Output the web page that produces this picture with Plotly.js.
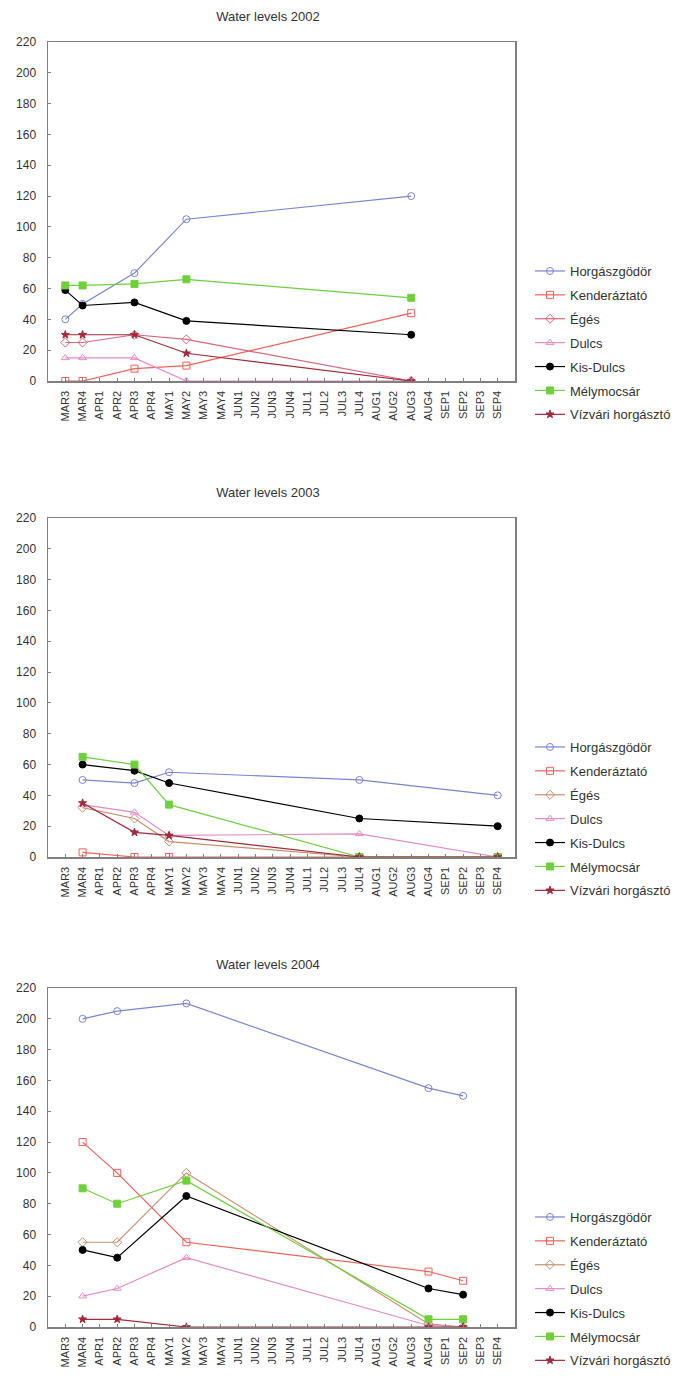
<!DOCTYPE html>
<html>
<head>
<meta charset="utf-8">
<script src="https://cdn.plot.ly/plotly-3.0.1.min.js"></script>
<style>
  html, body { margin: 0; padding: 0; background: #fff; overflow: hidden; }
  .chart { position: absolute; left: 0; width: 688px; }
</style>
</head>
<body>
<div id="c2002" class="chart" style="top:0px;height:470px;"></div>
<div id="c2003" class="chart" style="top:476px;height:470px;"></div>
<div id="c2004" class="chart" style="top:946px;height:470px;"></div>
<script>
const categories = ['MAR3','MAR4','APR1','APR2','APR3','APR4','MAY1','MAY2','MAY3','MAY4',
  'JUN1','JUN2','JUN3','JUN4','JUL1','JUL2','JUL3','JUL4','AUG1','AUG2','AUG3','AUG4',
  'SEP1','SEP2','SEP3','SEP4'];
const seriesNames = ['Horgászgödör','Kenderáztató','Égés','Dulcs','Kis-Dulcs','Mélymocsár','Vízvári horgásztó'];
const yTickValues = [0,20,40,60,80,100,120,140,160,180,200,220];

// 2002
const x2002 = ['MAR3','MAR4','APR3','MAY2','AUG3'];
const horgaszgodor2002 = [40,50,70,105,120];
const kenderaztato2002 = [0,0,8,10,44];
const eges2002 = [25,25,30,27,0];
const dulcs2002 = [15,15,15,0,0];
const kisDulcs2002 = [59,49,51,39,30];
const melymocsar2002 = [62,62,63,66,54];
const vizvari2002 = [30,30,30,18,0];

// 2003
const x2003 = ['MAR4','APR3','MAY1','JUL4','SEP4'];
const horgaszgodor2003 = [50,48,55,50,40];
const kenderaztato2003 = [3,0,0,0,0];
const eges2003 = [32,25,10,0,0];
const dulcs2003 = [34,29,14,15,0];
const kisDulcs2003 = [60,56,48,25,20];
const melymocsar2003 = [65,60,34,0,0];
const vizvari2003 = [35,16,14,0,0];

// 2004
const x2004 = ['MAR4','APR2','MAY2','AUG4','SEP2'];
const horgaszgodor2004 = [200,205,210,155,150];
const kenderaztato2004 = [120,100,55,36,30];
const eges2004 = [55,55,100,2,0];
const dulcs2004 = [20,25,45,1,0];
const kisDulcs2004 = [50,45,85,25,21];
const melymocsar2004 = [90,80,95,5,5];
const vizvari2004 = [5,5,0,0,0];

const styles = [
  {color:'#7a84d2', symbol:'circle-open', size:7},
  {color:'#f2605a', symbol:'square-open', size:7},
  {color:'#d9667a', symbol:'diamond-open', size:7},
  {color:'#e38bc6', symbol:'triangle-up-open', size:7},
  {color:'#000000', symbol:'circle', size:7},
  {color:'#6fd03c', symbol:'square', size:7},
  {color:'#a3283a', symbol:'star', size:6}
];
const egesBrown = '#c99070';

function makeTraces(xs, seriesList, egesColor) {
  return seriesList.map((ys, i) => {
    const c = (i === 2 && egesColor) ? egesColor : styles[i].color;
    return {
      type: 'scatter', mode: 'lines+markers', name: seriesNames[i],
      x: xs, y: ys, legendgroup: 'g' + i,
      line: {color: c, width: 1.2},
      marker: {color: c, symbol: styles[i].symbol, size: styles[i].size, line: {color: c, width: 1}}
    };
  });
}

function makeLayout(title, height, bottom, titleOffset) {
  const axisCommon = {
    showline: true, linecolor: '#808080', linewidth: 1.5, mirror: true,
    showgrid: false, zeroline: false, ticks: 'inside', ticklen: 3,
    tickcolor: '#808080', tickwidth: 1
  };
  return {
    width: 688, height: height,
    margin: {l: 48, r: 173, t: 42, b: bottom},
    paper_bgcolor: '#fff', plot_bgcolor: '#fff',
    font: {family: 'Liberation Sans, Arial, sans-serif', color: '#333'},
    title: {text: title, x: 268/688, xref: 'container', xanchor: 'center',
            y: 1 - titleOffset/height, yref: 'container', yanchor: 'middle',
            font: {size: 13, color: '#333'}},
    xaxis: Object.assign({}, axisCommon, {
      type: 'category', categoryorder: 'array', categoryarray: categories,
      tickvals: categories, ticktext: categories,
      range: [-1, 26], tickangle: -90, tickfont: {size: 11, color: '#333'},
      ticklabelstandoff: 4
    }),
    yaxis: Object.assign({}, axisCommon, {
      range: [0, 220], tickvals: yTickValues, ticktext: yTickValues.map(String),
      tickfont: {size: 12, color: '#333'}, ticklabelstandoff: 8
    }),
    showlegend: true,
    legend: {x: (530-48)/467, xanchor: 'left', y: (381-256)/339, yanchor: 'top',
             font: {size: 13, color: '#333'}, traceorder: 'grouped', tracegroupgap: 4,
             bgcolor: 'rgba(0,0,0,0)'}
  };
}

const cfg = {staticPlot: true, displayModeBar: false};

Plotly.newPlot('c2002', makeTraces(x2002,
  [horgaszgodor2002, kenderaztato2002, eges2002, dulcs2002, kisDulcs2002, melymocsar2002, vizvari2002]),
  makeLayout('Water levels 2002', 470, 89, 16), cfg);
Plotly.newPlot('c2003', makeTraces(x2003,
  [horgaszgodor2003, kenderaztato2003, eges2003, dulcs2003, kisDulcs2003, melymocsar2003, vizvari2003], egesBrown),
  makeLayout('Water levels 2003', 470, 89, 16), cfg);
Plotly.newPlot('c2004', makeTraces(x2004,
  [horgaszgodor2004, kenderaztato2004, eges2004, dulcs2004, kisDulcs2004, melymocsar2004, vizvari2004], egesBrown),
  makeLayout('Water levels 2004', 470, 89, 18), cfg);
</script>
</body>
</html>
